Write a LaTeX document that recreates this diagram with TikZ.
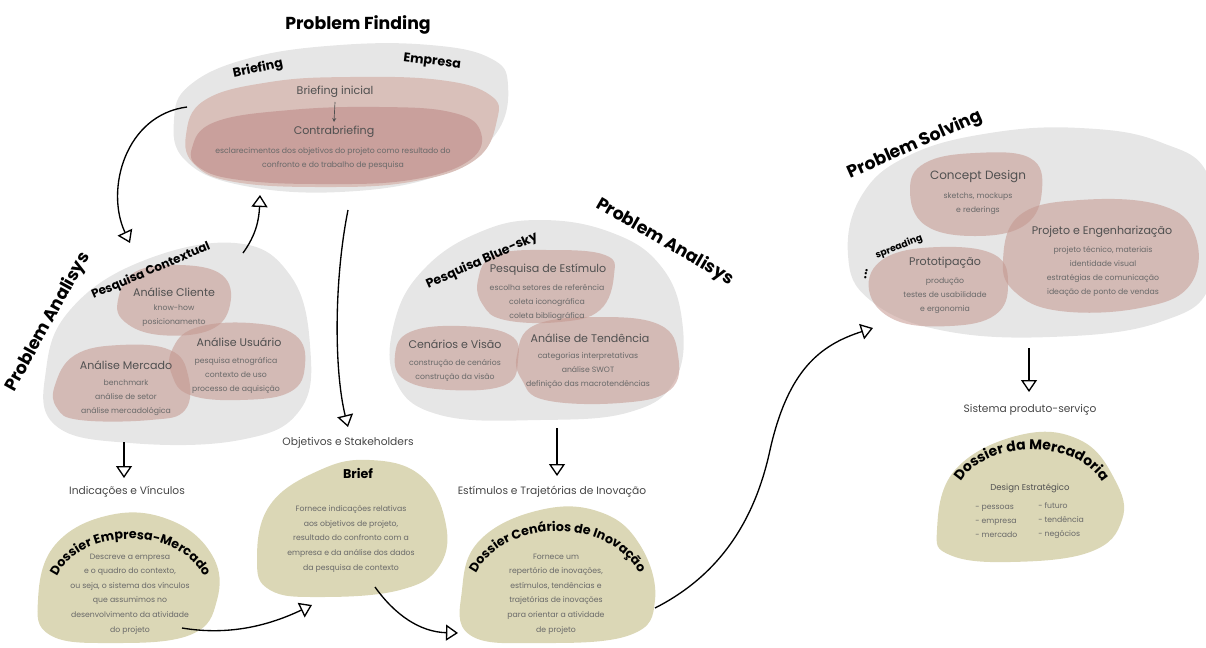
\documentclass[tikz,border=0pt]{standalone}
\usepackage{fontspec}
\setmainfont{Poppins}
\usetikzlibrary{arrows.meta,decorations.text}
\definecolor{grayc}{RGB}{230,230,230}
\definecolor{pinkc}{RGB}{196,150,142}
\definecolor{pinkL}{RGB}{217,192,186}
\definecolor{pinkD}{RGB}{201,160,156}
\definecolor{beigec}{RGB}{219,215,182}
\definecolor{titc}{RGB}{80,80,80}
\definecolor{dscc}{RGB}{105,105,105}
\definecolor{lblc}{RGB}{70,70,70}
\begin{document}
\begin{tikzpicture}[x=0.75pt,y=-0.75pt,
  grayblob/.style={fill=grayc},
  pinkblob/.style={fill=pinkc,fill opacity=0.55},
  beigeblob/.style={fill=beigec},
  hd/.style={font=\bfseries\fontsize{13}{13}\selectfont,inner sep=0pt},
  subhd/.style={font=\bfseries\fontsize{9.5}{9.5}\selectfont,inner sep=0pt},
  ttl/.style={font=\fontsize{8.3}{10}\selectfont,text=titc,inner sep=0pt},
  dsc/.style={font=\fontsize{5.8}{10.5}\selectfont,text=dscc,align=center,inner sep=0pt},
  bdsc/.style={font=\fontsize{5.8}{10.9}\selectfont,text=dscc,align=center,inner sep=0pt},
  lbl/.style={font=\fontsize{8}{10}\selectfont,text=lblc,inner sep=0pt},
  arr/.style={line width=1pt,-{Triangle[open,length=9pt,width=12pt,line width=1pt]}},
]
\useasboundingbox (0,0) rectangle (1206,647);

% ---------------- Problem Finding ----------------
\fill[grayblob] plot[smooth cycle,tension=0.7] coordinates {(174,120) (190,85) (250,58) (340,45) (430,45) (490,58) (508,85) (495,135) (440,175) (340,192) (240,185) (185,160)};
\fill[pinkL] plot[smooth cycle,tension=0.7] coordinates {(186,135) (205,100) (270,82) (350,77) (440,80) (490,95) (497,120) (475,160) (410,182) (320,187) (235,182) (195,165)};
\fill[pinkD] plot[smooth cycle,tension=0.7] coordinates {(192,148) (215,122) (290,110) (380,107) (450,112) (480,130) (470,160) (410,180) (320,184) (240,180) (200,168)};
\node[hd] (pfh) at (358,25) {Problem Finding};
\node[subhd,rotate=12] (brf) at (258,69) {Briefing};
\node[subhd,rotate=-7] (emp) at (432,62) {Empresa};
\node[ttl] (bi) at (335,92) {Briefing inicial};
\node[ttl] (cb) at (334,132) {Contrabriefing};
\node[dsc] (cbd) at (333,159) {esclarecimentos dos objetivos do projeto como resultado do\\confronto e do trabalho de pesquisa};
\draw[titc,line width=0.5pt,-{Stealth[length=3pt,width=3pt]}] ([yshift=-3pt]bi.south) -- ([yshift=3pt]cb.north);

% ---------------- Problem Analisys (left) ----------------
\fill[grayblob] plot[smooth cycle,tension=0.7] coordinates {(55,425) (46,370) (70,310) (140,262) (235,243) (290,275) (310,345) (300,410) (240,440) (130,443)};
\fill[pinkblob] plot[smooth cycle,tension=0.7] coordinates {(118,300) (135,272) (180,265) (222,275) (230,305) (210,330) (160,335) (125,322)};
\fill[pinkblob] plot[smooth cycle,tension=0.7] coordinates {(172,350) (195,328) (250,323) (295,335) (305,365) (290,392) (240,400) (190,395) (172,375)};
\fill[pinkblob] plot[smooth cycle,tension=0.7] coordinates {(55,385) (75,355) (120,345) (170,350) (188,375) (185,410) (150,420) (80,420) (57,408)};
\node[hd,rotate=61] (pal) at (48,322) {Problem Analisys};
\node[subhd,rotate=23,font=\bfseries\fontsize{9}{9}\selectfont] (pct) at (151,271) {Pesquisa Contextual};
\node[ttl] (acl) at (174,292) {Análise Cliente};
\node[dsc] (acld) at (174,316) {know-how\\posicionamento};
\node[ttl] (aus) at (239,342) {Análise Usuário};
\node[dsc] (ausd) at (236,375) {pesquisa etnográfica\\contexto de uso\\processo de aquisição};
\node[ttl] (ame) at (126,365) {Análise Mercado};
\node[dsc] (amed) at (126,398) {benchmark\\análise de setor\\análise mercadológica};

% ---------------- Problem Analisys (middle) ----------------
\fill[grayblob] plot[smooth cycle,tension=0.7] coordinates {(395,380) (395,320) (425,268) (480,232) (540,220) (610,232) (660,265) (682,320) (675,380) (630,412) (540,420) (440,415)};
\fill[pinkblob] plot[smooth cycle,tension=0.7] coordinates {(478,280) (495,255) (550,250) (605,255) (614,275) (600,310) (560,322) (505,320) (483,305)};
\fill[pinkblob] plot[smooth cycle,tension=0.7] coordinates {(395,355) (410,332) (460,326) (510,335) (518,360) (505,385) (450,390) (405,380)};
\fill[pinkblob] plot[smooth cycle,tension=0.7] coordinates {(517,355) (535,325) (600,317) (660,325) (678,355) (670,390) (620,403) (545,400) (522,380)};
\node[hd,rotate=-30] (pam) at (665,242) {Problem Analisys};
\node[subhd,rotate=24] (pbs) at (482,261) {Pesquisa Blue-sky};
\node[ttl] (pes) at (548,270) {Pesquisa de Estímulo};
\node[dsc] (pesd) at (547,303) {escolha setores de referência\\coleta iconográfica\\coleta bibliográfica};
\node[ttl] (cev) at (455,344) {Cenários e Visão};
\node[dsc] (cevd) at (455,370) {construção de cenários\\construção da visão};
\node[ttl] (ate) at (590,338) {Análise de Tendência};
\node[dsc] (ated) at (588,371) {categorias interpretativas\\análise SWOT\\definição das macrotendências};

% ---------------- Problem Solving ----------------
\fill[grayblob] plot[smooth cycle,tension=0.7] coordinates {(848,255) (862,195) (910,155) (990,133) (1080,128) (1160,142) (1210,180) (1212,280) (1160,322) (1050,337) (940,330) (870,300)};
\fill[pinkblob] plot[smooth cycle,tension=0.7] coordinates {(910,190) (925,163) (975,153) (1030,158) (1042,190) (1025,225) (975,236) (925,225)};
\fill[pinkblob] plot[smooth cycle,tension=0.7] coordinates {(1003,260) (1020,215) (1080,200) (1160,205) (1195,235) (1190,285) (1140,308) (1060,311) (1015,292)};
\fill[pinkblob] plot[smooth cycle,tension=0.7] coordinates {(869,290) (885,258) (940,247) (995,255) (1008,285) (995,315) (950,326) (895,320)};
\node[hd,rotate=24] (psh) at (915,145) {Problem Solving};
\node[ttl,font=\fontsize{9}{10}\selectfont] (cd) at (978,177) {Concept Design};
\node[dsc] (cdd) at (978,204) {sketchs, mockups\\e rederings};
\node[ttl] (pen) at (1102,232) {Projeto e Engenharização};
\node[dsc] (pend) at (1103,271) {projeto técnico, materiais\\identidade visual\\estratégias de comunicação\\ideação de ponto de vendas};
\node[ttl] (pro) at (945,263) {Prototipação};
\node[dsc] (prod) at (945,296) {produção\\testes de usabilidade\\e ergonomia};
\node[font=\bfseries\fontsize{7}{7}\selectfont,rotate=21,inner sep=0pt] (spr) at (899,247) {spreading};
\node[font=\bfseries\fontsize{9}{9}\selectfont,rotate=80,inner sep=0pt] (dots) at (866,274) {...};

% ---------------- bottom labels ----------------
\node[lbl] (obj) at (348,443) {Objetivos e Stakeholders};
\node[lbl] (ind) at (127,492) {Indicações e Vínculos};
\node[lbl] (est) at (552,492) {Estímulos e Trajetórias de Inovação};
\node[lbl] (sps) at (1030,410) {Sistema produto-serviço};

% ---------------- beige dossiers ----------------
\fill[beigeblob] plot[smooth cycle,tension=0.7] coordinates {(257,560) (270,505) (320,470) (370,460) (420,475) (445,520) (440,565) (400,590) (320,597) (270,590)};
\fill[beigeblob] plot[smooth cycle,tension=0.7] coordinates {(38,600) (55,545) (110,515) (170,520) (212,555) (217,600) (190,635) (110,643) (50,635)};
\fill[beigeblob] plot[smooth cycle,tension=0.7] coordinates {(462,590) (480,540) (540,510) (600,512) (640,545) (655,600) (630,635) (540,643) (470,635)};
\fill[beigeblob] plot[smooth cycle,tension=0.7] coordinates {(937,530) (955,470) (1020,435) (1080,440) (1115,480) (1122,520) (1090,552) (1010,562) (950,555)};

\node[font=\bfseries\fontsize{9.5}{9.5}\selectfont,inner sep=0pt] (brief) at (358,473) {Brief};
\node[bdsc] (briefd) at (351,539) {Fornece indicações relativas\\aos objetivos de projeto,\\resultado do confronto com a\\empresa e da análise dos dados\\da pesquisa de contexto};

\path[decorate,decoration={text along path,text align=center,text={|\bfseries\fontsize{9.5}{9.5}\selectfont|Dossier Empresa-Mercado}}] (52,596) .. controls (58,520) and (202,520) .. (209,596);
\node[bdsc] (demd) at (130,594) {Descreve a empresa\\e o quadro do contexto,\\ou seja, o sistema dos vínculos\\que assumimos no\\desenvolvimento da atividade\\do projeto};

\path[decorate,decoration={text along path,text align=center,text={|\bfseries\fontsize{9.5}{9.5}\selectfont|Dossier Cenários de Inovação}}] (468,604) .. controls (472,507) and (643,507) .. (647,604);
\node[bdsc] (dcid) at (556,594) {Fornece um\\repertório de inovações,\\estímulos, tendências e\\trajetórias de inovações\\para orientar a atividade\\de projeto};

\path[decorate,decoration={text along path,text align=center,text={|\bfseries\fontsize{10.5}{10.5}\selectfont|Dossier da Mercadoria}}] (953,508) .. controls (956,430) and (1107,430) .. (1110,508);
\node[ttl,font=\fontsize{6.4}{8}\selectfont] (dse) at (1030,488) {Design Estratégico};
\node[bdsc,align=left,anchor=west,font=\fontsize{5.8}{10.5}\selectfont] (dsl) at (975,521) {- pessoas\\- empresa\\- mercado};
\node[bdsc,align=left,anchor=west,font=\fontsize{5.8}{10.5}\selectfont] (dsr) at (1038,521) {- futuro\\- tendência\\- negócios};

% ---------------- connectors ----------------
\coordinate (pfL) at (187,107);
\coordinate (pcT) at (130,243);
\coordinate (pcR) at (243,253);
\coordinate (pfB) at (260,195);
\coordinate (pfS) at (348,210);
\coordinate (objT) at (348,427);
\coordinate (paB) at (124,442);
\coordinate (indT) at (124,478);
\coordinate (bsB) at (557,428);
\coordinate (estT) at (557,476);
\coordinate (psB) at (1029,348);
\coordinate (spsT) at (1029,392);
\coordinate (demR) at (182,628);
\coordinate (brfL) at (312,605);
\coordinate (brfB) at (375,587);
\coordinate (dciL) at (458,633);
\coordinate (dciR) at (655,608);
\coordinate (mid) at (770,450);
\coordinate (psL) at (873,328);

\draw[arr] (pfL) .. controls (125,115) and (105,190) .. (pcT);
\draw[arr] (pcR) .. controls (256,235) and (259,220) .. (pfB);
\draw[arr] (pfS) .. controls (334,280) and (334,370) .. (objT);
\draw[arr] (paB) -- (indT);
\draw[arr] (bsB) -- (estT);
\draw[arr] (psB) -- (spsT);
\draw[arr] (demR) .. controls (230,636) and (270,625) .. (brfL);
\draw[arr] (brfB) .. controls (395,615) and (420,632) .. (dciL);
\draw[arr] (dciR) .. controls (720,575) and (755,520) .. (mid) .. controls (788,370) and (820,345) .. (psL);
\end{tikzpicture}
\end{document}
